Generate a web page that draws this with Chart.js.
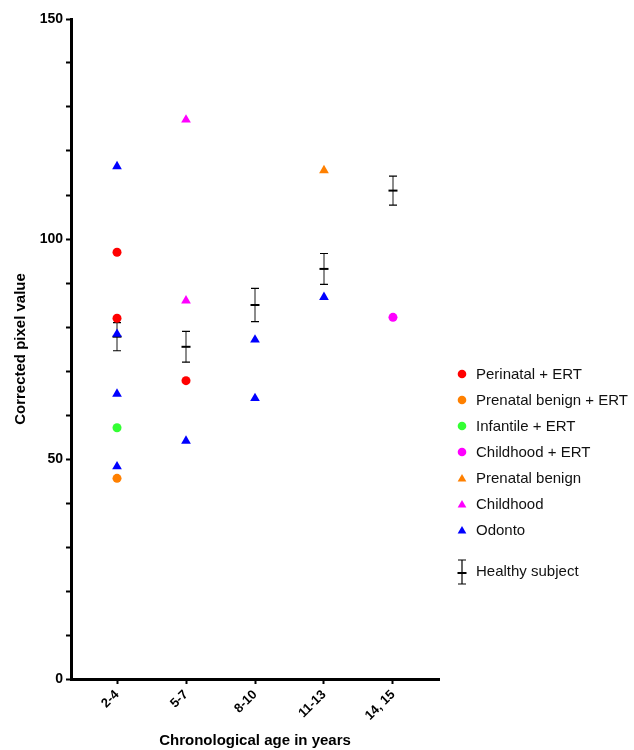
<!DOCTYPE html>
<html>
<head>
<meta charset="utf-8">
<script src="https://cdn.jsdelivr.net/npm/chart.js@4/dist/chart.umd.min.js"></script>
<style>
  html, body { margin: 0; padding: 0; background: #fff; }
  #c { display: block; }
</style>
</head>
<body>
<canvas id="c" width="634" height="750"></canvas>
<script>
// ---------- DATA ----------
const categories = ['2-4', '5-7', '8-10', '11-13', '14, 15'];

const perinatalErtAge = ['2-4', '2-4', '5-7'];
const perinatalErtVal = [97.0, 82.0, 67.8];

const prenatalBenignErtAge = ['2-4'];
const prenatalBenignErtVal = [45.6];

const infantileErtAge = ['2-4'];
const infantileErtVal = [57.1];

const childhoodErtAge = ['14, 15'];
const childhoodErtVal = [82.2];

const prenatalBenignAge = ['11-13'];
const prenatalBenignVal = [115.6];

const childhoodAge = ['5-7', '5-7'];
const childhoodVal = [127.1, 86.0];

const odontoAge = ['2-4', '2-4', '2-4', '2-4', '5-7', '8-10', '8-10', '11-13'];
const odontoVal = [116.5, 78.4, 64.8, 48.3, 54.1, 77.1, 63.8, 86.8];

const healthyMean = [77.8, 75.5, 85.0, 93.2, 111.0];
const healthyErr  = [3.2, 3.5, 3.8, 3.5, 3.3];

const yTickLabels = [0, 50, 100, 150];

// ---------- BUILD ----------
const FONT = "'Liberation Sans', Arial, Helvetica, sans-serif";
const idx = a => categories.indexOf(a);
const pts = (ages, vals) => ages.map((a, i) => ({ x: idx(a), y: vals[i] }));

const series = [
  { label: 'Perinatal + ERT',        color: '#ff0000', style: 'circle',   data: pts(perinatalErtAge, perinatalErtVal) },
  { label: 'Prenatal benign + ERT',  color: '#ff8000', style: 'circle',   data: pts(prenatalBenignErtAge, prenatalBenignErtVal) },
  { label: 'Infantile + ERT',        color: '#33ff33', style: 'circle',   data: pts(infantileErtAge, infantileErtVal) },
  { label: 'Childhood + ERT',        color: '#ff00ff', style: 'circle',   data: pts(childhoodErtAge, childhoodErtVal) },
  { label: 'Prenatal benign',        color: '#ff8000', style: 'triangle', data: pts(prenatalBenignAge, prenatalBenignVal) },
  { label: 'Childhood',              color: '#ff00ff', style: 'triangle', data: pts(childhoodAge, childhoodVal) },
  { label: 'Odonto',                 color: '#0000ff', style: 'triangle', data: pts(odontoAge, odontoVal) }
];

const datasets = series.map(s => ({
  label: s.label,
  data: s.data,
  pointStyle: s.style,
  pointRadius: s.style === 'circle' ? 4.5 : 5.6,
  backgroundColor: s.color,
  borderColor: s.color,
  borderWidth: 0,
  showLine: false
}));

datasets.push({
  label: 'Healthy subject',
  data: categories.map((c, i) => ({ x: i, y: healthyMean[i] })),
  pointStyle: 'line',
  pointRadius: 4.5,
  borderColor: '#000',
  backgroundColor: '#000',
  borderWidth: 2,
  showLine: false,
  order: 10
});

// error bar whiskers (drawn from data through scales)
const errorBarPlugin = {
  id: 'errorBars',
  beforeDatasetsDraw(chart) {
    const { ctx, scales: { x, y } } = chart;
    ctx.save();
    healthyMean.forEach((m, i) => {
      const px = Math.round(x.getPixelForValue(i));
      const top = y.getPixelForValue(m + healthyErr[i]);
      const bot = y.getPixelForValue(m - healthyErr[i]);
      ctx.strokeStyle = '#6e6e6e';
      ctx.lineWidth = 1.6;
      ctx.beginPath();
      ctx.moveTo(px, top); ctx.lineTo(px, bot);
      ctx.stroke();
      ctx.strokeStyle = '#000';
      ctx.lineWidth = 1.2;
      ctx.beginPath();
      ctx.moveTo(px - 4, top); ctx.lineTo(px + 4, top);
      ctx.moveTo(px - 4, bot); ctx.lineTo(px + 4, bot);
      ctx.stroke();
    });
    ctx.restore();
  }
};

// legend drawn at the right
const legendPlugin = {
  id: 'sideLegend',
  afterDraw(chart) {
    const ctx = chart.ctx;
    const mx = 462, tx = 476;
    const rows = [374, 400, 426, 452, 478, 504, 530];
    ctx.save();
    ctx.font = '15px ' + FONT;
    ctx.textBaseline = 'middle';
    ctx.textAlign = 'left';
    series.forEach((s, i) => {
      const yy = rows[i];
      ctx.fillStyle = s.color;
      ctx.beginPath();
      if (s.style === 'circle') {
        ctx.arc(mx, yy, 4.3, 0, Math.PI * 2);
      } else {
        const r = 5;
        ctx.moveTo(mx, yy - r + 1);
        ctx.lineTo(mx + r * 0.87, yy + r * 0.5 + 1);
        ctx.lineTo(mx - r * 0.87, yy + r * 0.5 + 1);
        ctx.closePath();
      }
      ctx.fill();
      ctx.fillStyle = '#111';
      ctx.fillText(s.label, tx, yy + 1);
    });
    // healthy subject icon
    const hy = 572;
    ctx.strokeStyle = '#000';
    ctx.lineWidth = 1.2;
    ctx.beginPath();
    ctx.moveTo(mx, hy - 12); ctx.lineTo(mx, hy + 12);
    ctx.moveTo(mx - 4, hy - 12); ctx.lineTo(mx + 4, hy - 12);
    ctx.moveTo(mx - 4, hy + 12); ctx.lineTo(mx + 4, hy + 12);
    ctx.stroke();
    ctx.lineWidth = 2;
    ctx.beginPath();
    ctx.moveTo(mx - 4.5, hy + 1); ctx.lineTo(mx + 4.5, hy + 1);
    ctx.stroke();
    ctx.fillStyle = '#111';
    ctx.fillText('Healthy subject', tx, hy);
    ctx.restore();
  }
};

new Chart(document.getElementById('c'), {
  type: 'scatter',
  data: { datasets },
  plugins: [errorBarPlugin, legendPlugin],
  options: {
    responsive: false,
    devicePixelRatio: 1,
    animation: false,
    layout: { padding: { top: 19, right: 195, bottom: 0, left: 0 } },
    plugins: { legend: { display: false }, tooltip: { enabled: false } },
    scales: {
      x: {
        type: 'linear',
        min: -0.667,
        max: categories.length - 1 + 0.667,
        afterBuildTicks: s => { s.ticks = categories.map((c, i) => ({ value: i })); },
        afterFit: s => { s.height = 71; },
        ticks: {
          autoSkip: false,
          minRotation: 45,
          maxRotation: 45,
          padding: 3,
          color: '#000',
          font: { family: FONT, size: 13, weight: 'bold' },
          callback: v => categories[v]
        },
        grid: { display: true, drawOnChartArea: false, drawTicks: true, tickLength: 5, tickWidth: 2, tickColor: '#000' },
        border: { display: true, width: 3, color: '#000' },
        title: {
          display: true,
          text: 'Chronological age in years',
          color: '#000',
          font: { family: FONT, size: 15, weight: 'bold' },
          padding: { top: 0, bottom: 0 }
        }
      },
      y: {
        type: 'linear',
        min: yTickLabels[0],
        max: yTickLabels[yTickLabels.length - 1],
        afterFit: s => { s.width = 71; },
        ticks: {
          stepSize: 10,
          padding: 3,
          color: '#000',
          font: { family: FONT, size: 14, weight: 'bold' },
          callback: v => (yTickLabels.includes(v) ? String(v) : '')
        },
        grid: { display: true, drawOnChartArea: false, drawTicks: true, tickLength: 5, tickWidth: 2, tickColor: '#000' },
        border: { display: true, width: 3, color: '#000' },
        title: {
          display: true,
          text: 'Corrected pixel value',
          color: '#000',
          font: { family: FONT, size: 15, weight: 'bold' },
          padding: { top: 12, bottom: 0 }
        }
      }
    }
  }
});
</script>
</body>
</html>
